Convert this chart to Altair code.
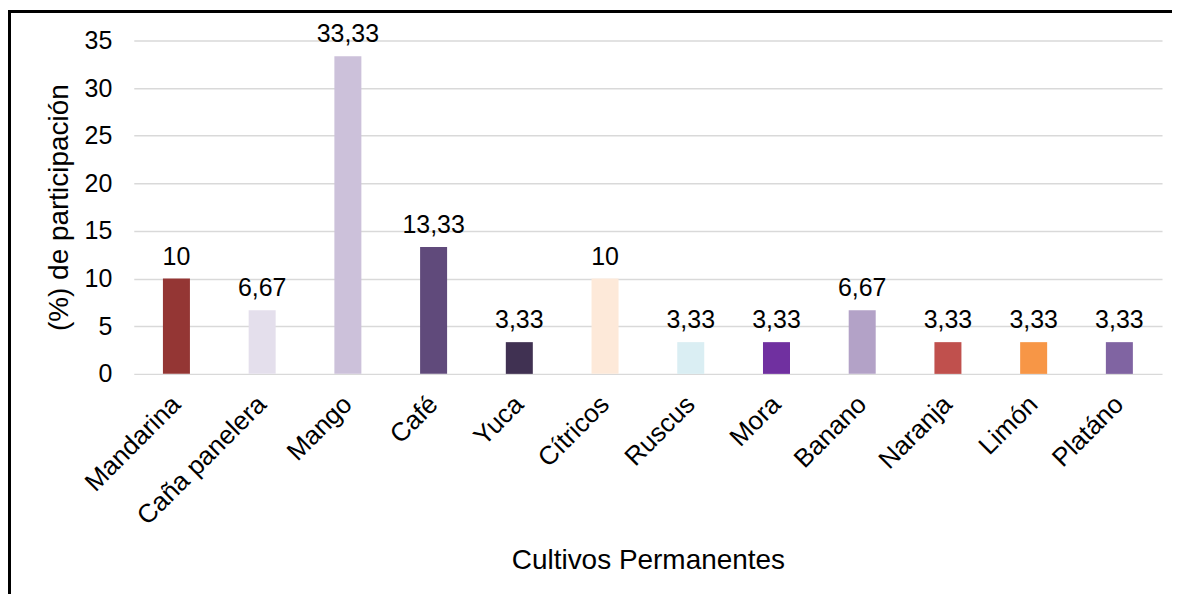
import altair as alt
import pandas as pd

cultivos = ["Mandarina", "Caña panelera", "Mango", "Café", "Yuca", "Cítricos",
            "Ruscus", "Mora", "Banano", "Naranja", "Limón", "Platáno"]
valores = [10, 6.67, 33.33, 13.33, 3.33, 10, 3.33, 3.33, 6.67, 3.33, 3.33, 3.33]
etiquetas = ["10", "6,67", "33,33", "13,33", "3,33", "10", "3,33", "3,33", "6,67", "3,33", "3,33", "3,33"]
colores = ["#943634", "#E4DFEC", "#CCC1DA", "#604A7B", "#403152", "#FDE9D9",
           "#DAEEF3", "#7030A0", "#B3A2C7", "#C0504D", "#F79646", "#8064A2"]

df = pd.DataFrame({"cultivo": cultivos, "valor": valores, "etiqueta": etiquetas})

FONT = "Liberation Sans"

x = alt.X("cultivo:N", sort=cultivos, title="Cultivos Permanentes",
          scale=alt.Scale(paddingInner=0.685, paddingOuter=0.34),
          axis=alt.Axis(labelAngle=-45, labelAlign="right", labelBaseline="middle",
                        labelFontSize=26, labelColor="#000000", labelPadding=26,
                        ticks=False, domain=False, titleFontSize=28, titleFontWeight="normal",
                        titleColor="#000000", titlePadding=17, labelFont=FONT, titleFont=FONT))
y = alt.Y("valor:Q", title="(%) de participación",
          scale=alt.Scale(domain=[0, 35]),
          axis=alt.Axis(values=[0, 5, 10, 15, 20, 25, 30, 35], labelFontSize=25,
                        labelColor="#000000", labelPadding=22, ticks=False, domain=False,
                        gridColor="#D9D9D9", gridWidth=1.5, titleFontSize=28,
                        titleFontWeight="normal", titleColor="#000000", titlePadding=11,
                        labelFont=FONT, titleFont=FONT))

bars = alt.Chart(df).mark_bar().encode(
    x=x, y=y,
    color=alt.Color("cultivo:N", sort=cultivos,
                    scale=alt.Scale(domain=cultivos, range=colores), legend=None),
)
text = alt.Chart(df).mark_text(baseline="bottom", dy=-9, fontSize=25, font=FONT,
                               color="#000000").encode(
    x=alt.X("cultivo:N", sort=cultivos), y="valor:Q", text="etiqueta:N")

frame_top = alt.Chart(df).mark_rule(color="#000000", strokeWidth=3).encode(
    x=alt.value(-126), x2=alt.value(1200), y=alt.value(-29))
frame_left = alt.Chart(df).mark_rule(color="#000000", strokeWidth=3).encode(
    x=alt.value(-125), y=alt.value(-30), y2=alt.value(700))

chart = alt.layer(bars, text, frame_top, frame_left).properties(
    width=1030, height=334,
    autosize=alt.AutoSizeParams(type="none"),
    padding={"left": 126, "top": 32, "right": 10, "bottom": 220},
    background="white",
).configure_view(strokeWidth=0)

chart.save("out.html", embed_options={"renderer": "svg", "actions": False})
